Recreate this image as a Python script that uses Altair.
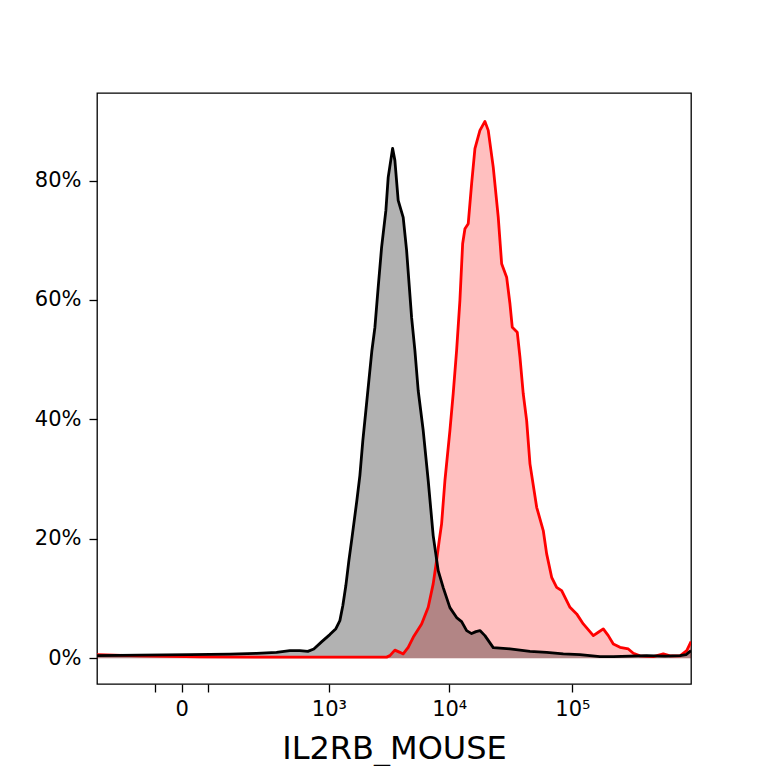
import altair as alt
import pandas as pd

# Fluorescence intensity (IL2RB_MOUSE channel) and % of max for each sample
black_x = [-266, -82, 11, 100, 209, 334, 448, 554, 654, 739, 869, 1020, 1150, 1244, 1319, 1399,
           1484, 1573, 1733, 1837, 1946, 2063, 2186, 2316, 2453, 2612, 2788, 3026, 3162, 3438,
           3591, 3823, 4204, 4484, 4928, 5245, 5582, 6136, 6741, 7404, 8136, 8942, 10136, 11495,
           12627, 13869, 15228, 16512, 17790, 19527, 22811, 25854, 31181, 37578, 45299, 61859,
           84318, 115161, 167187, 214383, 292560, 399579, 562005, 743475, 831381, 912663]
black_y = [0.45, 0.54, 0.62, 0.70, 0.84, 1.0, 1.29, 1.29, 1.17, 1.57, 2.80, 3.97, 4.97, 6.31, 8.83, 12.18,
           16.37, 20.05, 26.42, 30.6, 36.47, 41.49, 46.52, 51.54, 55.39, 62.09, 68.79, 74.99, 80.52, 85.38,
           83.37, 76.67, 73.82, 68.29, 57.07, 51.54, 44.84, 38.14, 29.77, 20.55, 14.69, 11.84, 8.49, 6.82,
           6.15, 4.64, 4.14, 4.47, 4.64, 3.80, 1.79, 1.71, 1.57, 1.37, 1.17, 1.0,
           0.74, 0.62, 0.28, 0.28, 0.37, 0.45, 0.37, 0.45, 0.62, 1.29]

red_x = [-266, -82, 28, 554, 3067, 3266, 3591, 3950, 4204, 4623, 5082, 5955, 6741, 7404, 7894, 8294,
         8673, 9232, 10136, 10785, 11495, 12227, 12869, 13435, 14290, 15228, 16200, 17790, 19527,
         20775, 22811, 25047, 26695, 29303, 31181, 32542, 35728, 37578, 39958, 42581, 45299, 51336,
         58057, 61859, 67903, 74520, 81834, 95565, 108261, 122475, 147660, 162012, 177813, 195201,
         214383, 242880, 283521, 311190, 352590, 451881, 544479, 616929, 743475, 842145, 912663]
red_y = [0.6, 0.4, 0.23, 0.2, 0.2, 0.45, 1.37, 1.0, 0.74, 1.84, 3.52, 5.76, 8.54, 12.46, 16.37, 19.72,
         22.51, 29.77, 38.14, 44.34, 51.54, 59.92, 69.41, 71.93, 72.76, 79.46, 85.33, 88.39, 89.9,
         88.39, 82.24, 73.87, 66.06, 63.82, 59.36, 55.44, 54.61, 50.42, 44.29, 39.8, 32.56, 25.29,
         21.39, 17.49, 13.57, 11.89, 11.34, 8.54, 7.44, 5.76, 3.80, 4.36, 4.92, 3.80,
         2.41, 1.84, 1.57, 0.84, 0.40, 0.28, 0.74, 0.40, 0.40, 1.29, 2.80]

x_ticks = [-44, 0, 44, 1000, 10000, 100000]
y_ticks = [0, 20, 40, 60, 80]

black_df = pd.DataFrame({"x": black_x, "y": black_y})
red_df = pd.DataFrame({"x": red_x, "y": red_y})

xscale = alt.Scale(type="symlog", constant=69, domain=[-266, 912000], nice=False, zero=False)
yscale = alt.Scale(domain=[-4.3, 94.65], nice=False, zero=False)

label_expr = ("datum.value == 0 ? '0' : datum.value == 1000 ? '10\u00b3' : "
              "datum.value == 10000 ? '10\u2074' : datum.value == 100000 ? '10\u2075' : ''")

xenc = alt.X("x:Q", scale=xscale,
             axis=alt.Axis(values=x_ticks, labelExpr=label_expr, title="IL2RB_MOUSE",
                           grid=False, labelOverlap=False, labelFlush=False,
                           tickSize=8, tickWidth=1.3, tickColor="black",
                           labelFontSize=21, labelPadding=6, labelColor="black",
                           titleFontSize=32, titleFontWeight="normal", titleColor="black",
                           titleBaseline="alphabetic", titleY=74,
                           domain=False))
yenc = alt.Y("y:Q", scale=yscale,
             axis=alt.Axis(values=y_ticks, labelExpr="datum.value + '%'", title=None,
                           grid=False, tickSize=8, tickWidth=1.3, tickColor="black",
                           labelFontSize=21, labelPadding=8, labelColor="black",
                           domain=False))

red_area = alt.Chart(red_df).mark_area(color="red", opacity=0.25, clip=True).encode(
    x=xenc, y=yenc, y2=alt.datum(0))
black_area = alt.Chart(black_df).mark_area(color="black", opacity=0.3, clip=True).encode(
    x=xenc, y=yenc, y2=alt.datum(0))
red_line = alt.Chart(red_df).mark_line(color="red", strokeWidth=2.8, clip=True,
                                       strokeJoin="round").encode(x=xenc, y=yenc)
black_line = alt.Chart(black_df).mark_line(color="black", strokeWidth=2.8, clip=True,
                                           strokeJoin="round").encode(x=xenc, y=yenc)

chart = alt.layer(red_area, black_area, red_line, black_line).properties(
    width=594, height=591,
    padding={"left": 89, "top": 85, "right": 60, "bottom": 82},
    autosize=alt.AutoSizeParams(type="none"),
).configure(font="DejaVu Sans").configure_view(stroke="black", strokeWidth=1.3)

chart.save("out.html", embed_options={"renderer": "svg", "actions": False})
